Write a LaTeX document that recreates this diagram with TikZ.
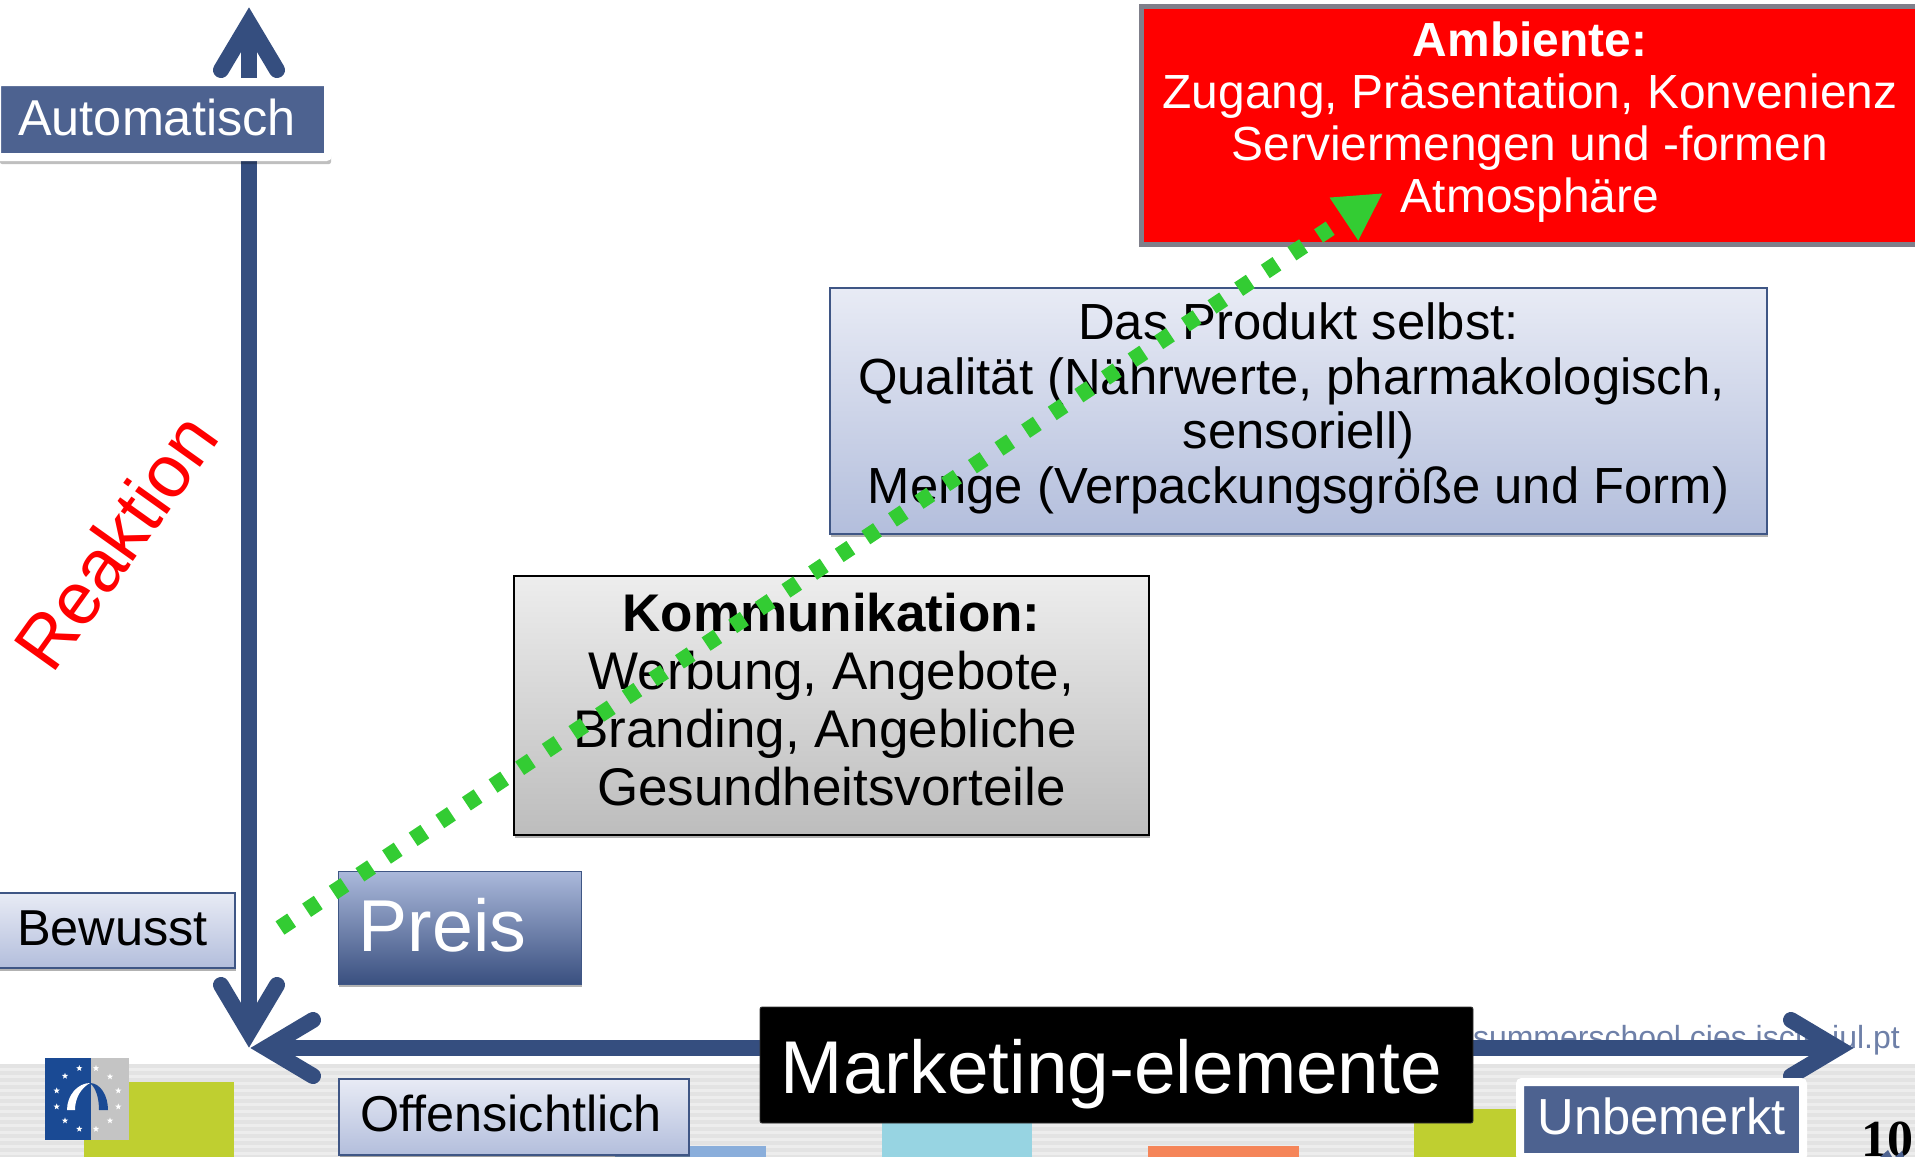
\documentclass[tikz,border=0pt]{standalone}
\usepackage{fontspec}
\setmainfont{Liberation Sans}
\newfontfamily\pagenumfont{Liberation Serif}
\usetikzlibrary{arrows.meta,shadows,shapes.geometric}
\newcommand{\fs}[2]{\fontsize{#1}{#2}\selectfont}
\newcommand{\tops}[1]{\rule{0pt}{#1pt}}
\newcommand{\bots}[1]{\rule[-#1pt]{0pt}{#1pt}}
\definecolor{axisblue}{HTML}{354E7F}
\definecolor{labelblue}{HTML}{4D6290}
\definecolor{frameblue}{HTML}{3F5685}
\definecolor{arrowgreen}{HTML}{33CC33}
\definecolor{euroblue}{HTML}{1A4A94}
\definecolor{lighttop}{HTML}{E8EBF5}
\definecolor{lightbot}{HTML}{B3BEDC}
\tikzset{
  softshadow/.style={drop shadow={shadow xshift=1pt,shadow yshift=-3pt,opacity=.3,fill=black}},
  whiteshadow/.style={drop shadow={shadow xshift=3pt,shadow yshift=-7pt,opacity=.25,fill=black}},
  axis/.style={draw=axisblue,line width=16pt},
  axishead/.style={draw=axisblue,line width=16pt,line cap=round,miter limit=10},
  lightboxb/.style={draw=frameblue,line width=1.6pt,top color=lighttop,bottom color=lightbot,inner sep=0pt,softshadow},
  whitebox/.style={draw=white,line width=8pt,fill=labelblue,rounded corners=2pt,text=white,inner sep=0pt,whiteshadow},
  eustar/.style={star,star points=5,star point ratio=2.4,fill=white,inner sep=0pt,minimum size=6.5pt}
}
\begin{document}
\begin{tikzpicture}[x=1pt,y=-1pt]
\clip (0,0) rectangle (1915,1157);
% footer band
\fill[black!7] (0,1064) rectangle (1915,1157);
\foreach \s in {1064,1071,...,1157}{\fill[black!11] (0,\s) rectangle (1915,\s+3.5);}
\fill[fill={rgb,255:red,191;green,207;blue,48}] (84,1082) rectangle (234,1157);
\fill[fill={rgb,255:red,138;green,174;blue,219}] (615,1146) rectangle (766,1157);
\fill[fill={rgb,255:red,151;green,212;blue,226}] (882,1110) rectangle (1032,1157);
\fill[fill={rgb,255:red,245;green,133;blue,89}] (1148,1146) rectangle (1299,1157);
\fill[fill={rgb,255:red,191;green,207;blue,48}] (1414,1109) rectangle (1564,1157);
% logo
\fill[euroblue] (45,1058) rectangle (91,1140);
\fill[black!23] (91,1058) rectangle (129,1140);
\foreach \i/\px/\py in {1/79.3/1068.3,2/65/1076,3/56.7/1090.7,4/56.7/1106.7,5/65/1120.7,6/79.3/1129,7/96/1068.3,8/110/1076.7,9/118.3/1090.7,10/118.3/1106.7,11/110/1120.7,12/96/1129}{
  \node[eustar] (st\i) at (\px,\py) {};
}
\fill[white] (67,1110) .. controls (67,1095) and (78,1083) .. (90,1083) .. controls (81,1088) and (75,1098) .. (75,1110) -- cycle;
\fill[euroblue] (90,1083) .. controls (100,1083) and (108,1095) .. (108,1110) -- (99,1110) .. controls (99,1098) and (96,1088) .. (90,1083) -- cycle;
% url
\node[anchor=base east,inner sep=0pt,text={rgb,255:red,110;green,128;blue,168},font=\fs{32}{38}] (url) at (1900,1048) {summerschool.cies.iscte-iul.pt};
% axes
\coordinate (vtop) at (249,23);
\coordinate (origv) at (249,1032);
\coordinate (origh) at (266,1048);
\coordinate (hend) at (1838,1048);
\draw[axis] (vtop) -- (origv);
\draw[axis] (origh) -- (hend);
\coordinate (ut1) at (221,70);\coordinate (ut2) at (277,70);
\coordinate (db1) at (221,985);\coordinate (db2) at (277,985);
\coordinate (lb1) at (313,1020);\coordinate (lb2) at (313,1076);
\coordinate (rb1) at (1791,1020);\coordinate (rb2) at (1791,1076);
\draw[axishead] (ut1) -- (vtop) -- (ut2);
\draw[axishead] (db1) -- (origv) -- (db2);
\draw[axishead] (lb1) -- (origh) -- (lb2);
\draw[axishead] (rb1) -- (hend) -- (rb2);
% axis labels
\node[whitebox,minimum width=331pt,minimum height=75pt,text height=31pt,text depth=0pt,font=\fs{50.4}{58}] (auto) at (162.5,119.5) {Automatisch\kern11pt};
\node[lightboxb,minimum width=245pt,minimum height=75pt,text height=30pt,text depth=0pt,font=\fs{50.5}{58}] (bew) at (112.5,930.5) {Bewusst};
\node[draw=frameblue,line width=1pt,top color={rgb,255:red,171;green,185;blue,219},bottom color={rgb,255:red,58;green,80;blue,128},text=white,inner sep=0pt,softshadow,minimum width=243pt,minimum height=113pt,text height=48pt,text depth=0pt,font=\fs{73.5}{80}] (preis) at (459.5,927.5) {Preis\kern34pt};
\node[lightboxb,minimum width=350pt,minimum height=76pt,text height=28pt,text depth=0pt,font=\fs{50.4}{58}] (off) at (514,1117) {Offensichtlich\kern6pt};
\node[whitebox,minimum width=283pt,minimum height=75pt,text height=29pt,text depth=0pt,font=\fs{50.7}{58}] (unb) at (1661.5,1119.5) {Unbemerkt};
\node[fill=black,draw=black!80,line width=.8pt,rounded corners=2pt,text=white,inner sep=0pt,minimum width=713pt,minimum height=116pt,text height=56pt,text depth=0pt,font=\fs{74.8}{88}] (mkt) at (1116.5,1065) {Marketing-elemente\kern10pt};
\node[anchor=base west,rotate=54.5,inner sep=0pt,text=red,font=\fs{74}{80}] (reak) at (52,676) {Reaktion};
% content boxes
\node[fill=red,draw={rgb,255:red,127;green,127;blue,138},line width=5pt,inner sep=0pt,text=white,align=center,minimum width=777pt,minimum height=238pt,font=\fs{47.9}{52}] (amb) at (1530,125.6) {\tops{38}\textbf{Ambiente:}\\Zugang, Präsentation, Konvenienz\\Serviermengen und -formen\\Atmosphäre\bots{20}};
\node[lightboxb,align=center,minimum width=937pt,minimum height=246pt,font=\fs{50.8}{54.6}] (prod) at (1298.5,411) {\tops{38}Das Produkt selbst:\\Qualität (Nährwerte, pharmakologisch,\mbox{}\kern14pt\\sensoriell)\\Menge (Verpackungsgröße und Form)\bots{17}};
\node[draw=black,line width=1.4pt,top color=black!7,bottom color=black!26,inner sep=0pt,softshadow,align=center,minimum width=635pt,minimum height=259pt,font=\fs{53}{58}] (komm) at (831.5,705.5) {\tops{41}\textbf{Kommunikation:}\\Werbung, Angebote,\\Branding, Angebliche\mbox{}\kern13pt\\Gesundheitsvorteile\bots{16}};
% page number
\node[anchor=base,inner sep=0pt,font=\pagenumfont\bfseries\fs{52}{56}] (num) at (1887,1156) {10};
\fill[labelblue] (1880,1157) -- (1888,1150) -- (1892,1157) -- cycle;
\fill[labelblue] (1895,1157) -- (1902,1151) -- (1904,1157) -- cycle;
% green dotted arrow
\coordinate (gs) at (280,928);
\coordinate (ge) at (1383,193);
\draw[draw=arrowgreen,line width=16pt,dash pattern=on 14pt off 18pt,-{Triangle[length=47pt,width=48pt]}] (gs) -- (ge);
\end{tikzpicture}
\end{document}
